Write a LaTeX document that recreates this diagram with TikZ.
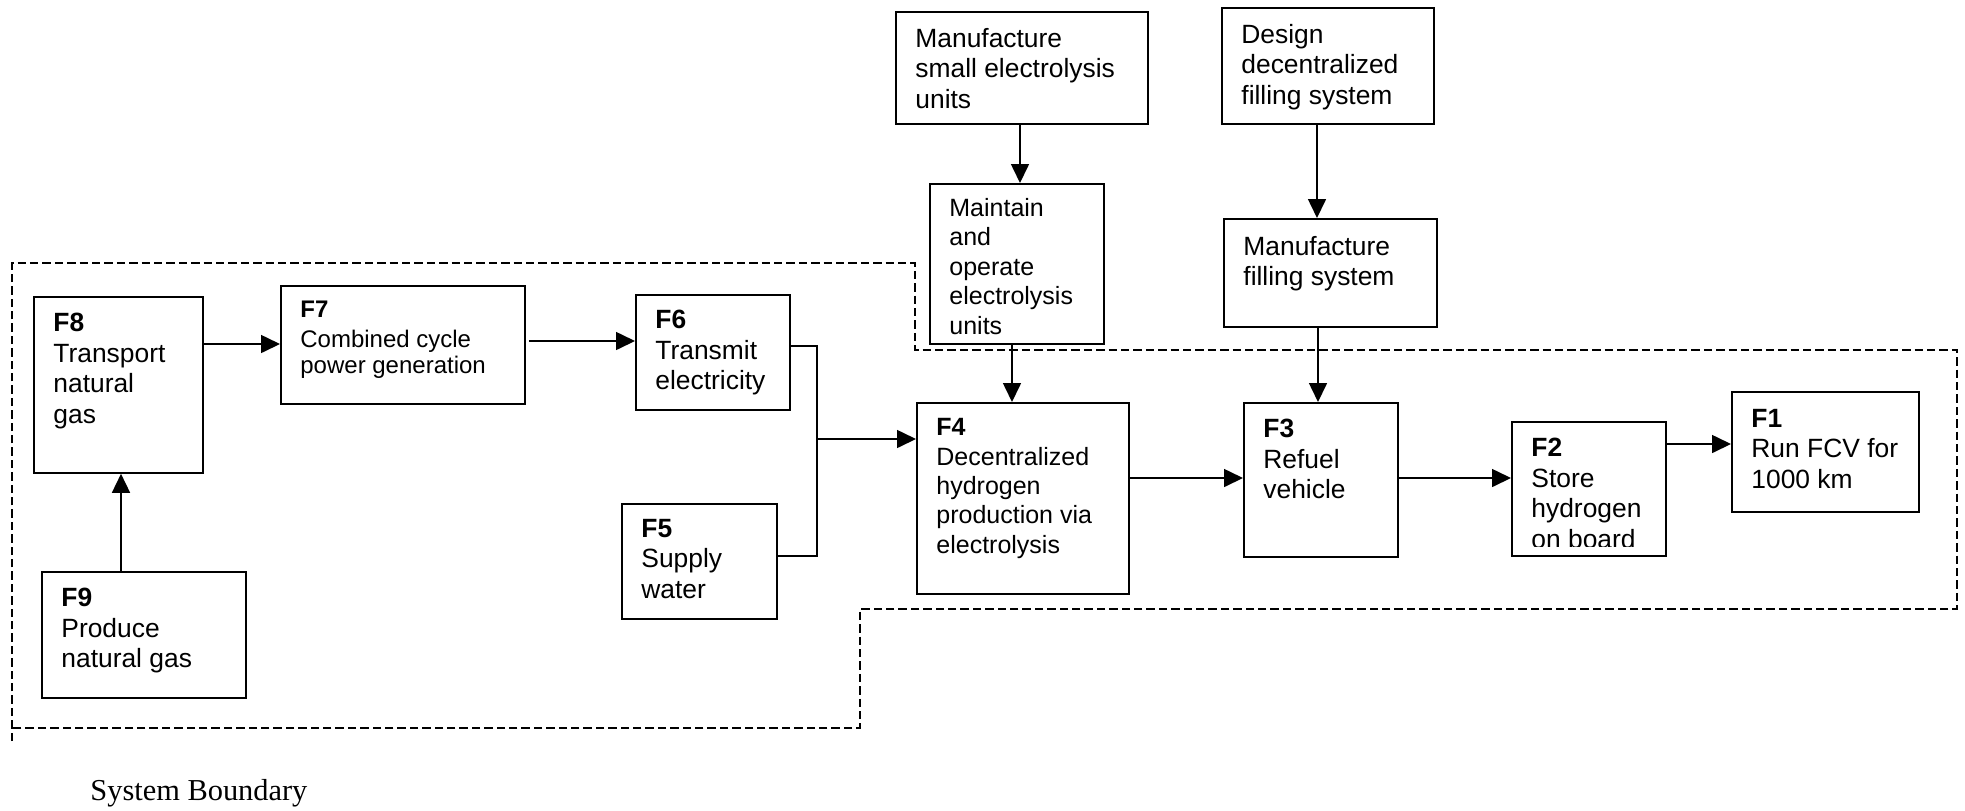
\documentclass[tikz,border=0pt]{standalone}
\usepackage{fontspec}
\setmainfont{Liberation Sans}
\newfontfamily\serifbd{Liberation Serif}
\usetikzlibrary{arrows.meta,calc}
\newcommand\fsA{\fontsize{13.2pt}{15.2pt}\selectfont}
\newcommand\fsB{\fontsize{12.5pt}{14.7pt}\selectfont}
\newcommand\fsC{\fontsize{12pt}{13.4pt}\selectfont}
\begin{document}
\begin{tikzpicture}[x=0.5pt,y=-0.5pt,
  box/.style={draw, line width=0.9pt, inner sep=0pt, anchor=north west},
  txt/.style={anchor=north west, inner sep=0pt, align=left, font=\fsA},
  arr/.style={line width=0.8pt, -{Triangle[length=9.5pt,width=9pt]}},
  wire/.style={line width=0.8pt},
  bound/.style={line width=0.6pt, dash pattern=on 4.2pt off 2pt}]
\useasboundingbox (0,0) rectangle (1965,810);

% boxes
\node[box, minimum width=84.5pt, minimum height=88pt]   (f8) at (33,296) {};
\node[box, minimum width=122pt,  minimum height=59pt]   (f7) at (280,285) {};
\node[box, minimum width=77pt,   minimum height=57.5pt] (f6) at (635,294) {};
\node[box, minimum width=77.5pt, minimum height=57.5pt] (f5) at (621,503) {};
\node[box, minimum width=102pt,  minimum height=63pt]   (f9) at (41,571) {};
\node[box, minimum width=106pt,  minimum height=95.5pt] (f4) at (916,402) {};
\node[box, minimum width=77pt,   minimum height=77pt]   (f3) at (1243,402) {};
\node[box, minimum width=77pt,   minimum height=67pt]   (f2) at (1511,421) {};
\node[box, minimum width=93.5pt, minimum height=60pt]   (f1) at (1731,391) {};
\node[box, minimum width=126pt,  minimum height=56pt]   (mseu) at (895,11) {};
\node[box, minimum width=87pt,   minimum height=80pt]   (maint) at (929,183) {};
\node[box, minimum width=106pt,  minimum height=58pt]   (design) at (1221,7) {};
\node[box, minimum width=106.5pt,minimum height=54pt]   (mfs) at (1223,218) {};

% texts
\node[txt] (f8t) at ([shift={(10pt,-8.5pt)}]f8.north west) {\textbf{F8}\\Transport\\natural\\gas};
\node[txt, font=\fsC] (f7t) at ([shift={(10pt,-8pt)}]f7.north west) {\textbf{F7}\\[1.2pt]Combined cycle\\power generation};
\node[txt] (f6t) at ([shift={(10pt,-8pt)}]f6.north west) {\textbf{F6}\\Transmit\\electricity};
\node[txt] (f5t) at ([shift={(10pt,-8pt)}]f5.north west) {\textbf{F5}\\Supply\\water};
\node[txt] (f9t) at ([shift={(10pt,-8.5pt)}]f9.north west) {\textbf{F9}\\Produce\\natural gas};
\node[txt, font=\fsB] (f4t) at ([shift={(10pt,-8pt)}]f4.north west) {\textbf{F4}\\Decentralized\\hydrogen\\production via\\electrolysis};
\node[txt] (f3t) at ([shift={(10pt,-8.5pt)}]f3.north west) {\textbf{F3}\\Refuel\\vehicle};
\begin{scope}
\clip (f2.north west) rectangle ([yshift=5pt]f2.south east);
\node[txt] (f2t) at ([shift={(10pt,-8.5pt)}]f2.north west) {\textbf{F2}\\Store\\hydrogen\\on board};
\end{scope}
\node[txt] (f1t) at ([shift={(10pt,-9pt)}]f1.north west) {\textbf{F1}\\Run FCV for\\1000 km};
\node[txt] (mseut) at ([shift={(10pt,-8.5pt)}]mseu.north west) {Manufacture\\small electrolysis\\units};
\node[txt, font=\fsB] (maintt) at ([shift={(10pt,-7.5pt)}]maint.north west) {Maintain\\and\\operate\\electrolysis\\units};
\node[txt] (designt) at ([shift={(10pt,-8.5pt)}]design.north west) {Design\\decentralized\\filling system};
\node[txt] (mfst) at ([shift={(10pt,-9pt)}]mfs.north west) {Manufacture\\filling system};

% helper coordinates
\coordinate (y87) at (0,344);
\coordinate (y76) at (0,341);
\coordinate (y6w) at (0,346);
\coordinate (y5w) at (0,556);
\coordinate (j)   at (817,439);
\coordinate (y43) at (0,478);
\coordinate (y21) at (0,444);
\coordinate (x98) at (121,0);
\coordinate (xm)  at (1020,0);
\coordinate (xmf) at (1012,0);
\coordinate (xd)  at (1317,0);
\coordinate (xf)  at (1318,0);

% connectors
\draw[arr] (f8.east |- y87) -- (f7.west |- y87);
\draw[arr] ([xshift=1.5pt]f7.east |- y76) -- (f6.west |- y76);
\draw[wire] (f6.east |- y6w) -| (j) |- (f5.east |- y5w);
\draw[arr] (j) -- (f4.west |- j);
\draw[arr] (f4.east |- y43) -- (f3.west |- y43);
\draw[arr] (f3.east |- y43) -- (f2.west |- y43);
\draw[arr] (f2.east |- y21) -- (f1.west |- y21);
\draw[arr] (x98 |- f9.north) -- (x98 |- f8.south);
\draw[arr] (xm |- mseu.south) -- (xm |- maint.north);
\draw[arr] (xmf |- maint.south) -- (xmf |- f4.north);
\draw[arr] (xd |- design.south) -- (xd |- mfs.north);
\draw[arr] (xf |- mfs.south) -- (xf |- f3.north);

% system boundary
\draw[bound] (12,741) -- (12,263) -- (915,263) -- (915,350) -- (1957,350) -- (1957,609) -- (860,609) -- (860,728) -- (12,728);
\node[anchor=base west, inner sep=0pt, font=\serifbd\fontsize{15.2pt}{18pt}\selectfont] (sb) at (90,800) {System Boundary};
\end{tikzpicture}
\end{document}
